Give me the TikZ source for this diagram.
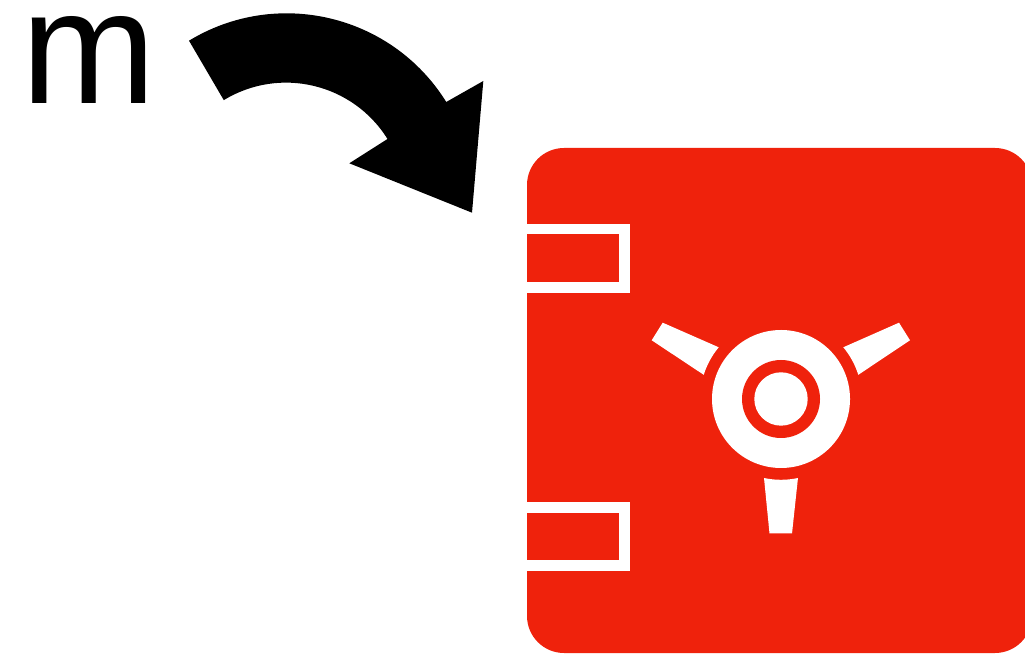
\documentclass[tikz,border=0pt]{standalone}
\usepackage{fontspec}
\setmainfont{Liberation Sans}
\definecolor{safered}{HTML}{EF220C}
\tikzset{
	hinge/.style = {white, line width = 3pt},
	spoke/.style = {fill = white},
}
\begin{document}
\begin{tikzpicture} [x = 0.01cm, y = 0.01cm]
	\useasboundingbox (0,0) rectangle (1025,658);
	\node [anchor = base west, inner sep = 0] (mass) at (21,554) {\fontsize{46}{50}\selectfont m};
	% curved arrow
	\fill [black] (189,617.3) arc (121.3:31.9:188) -- (483.3,577) -- (472,445.3) -- (349.3,494.7) -- (387.5,519) arc (31.9:121.4:119.5) -- cycle;
	% safe body
	\fill [safered, rounded corners = 0.37cm] (527,5) rectangle (1032,510);
	\draw [hinge] (527,429) -- (624.5,429) -- (624.5,370.5) -- (527,370.5);
	\draw [hinge] (527,150.5) -- (624.5,150.5) -- (624.5,92.5) -- (527,92.5);
	% dial
	\fill [white] (781,259) circle (69);
	\fill [safered] (781,259) circle (39);
	\fill [white] (781,259) circle (26.7);
	\fill [spoke] (718.7,310.7) arc (140.3:162.6:81) -- (651.7,317.7) -- (662.7,335.3) -- cycle;
	\fill [spoke] (843.3,310.7) arc (39.7:17.4:81) -- (910,317.7) -- (899,335.3) -- cycle;
	\fill [spoke] (764,180) arc (257.9:282.1:81) -- (792,124.5) -- (769.5,124.5) -- cycle;
\end{tikzpicture}
\end{document}
